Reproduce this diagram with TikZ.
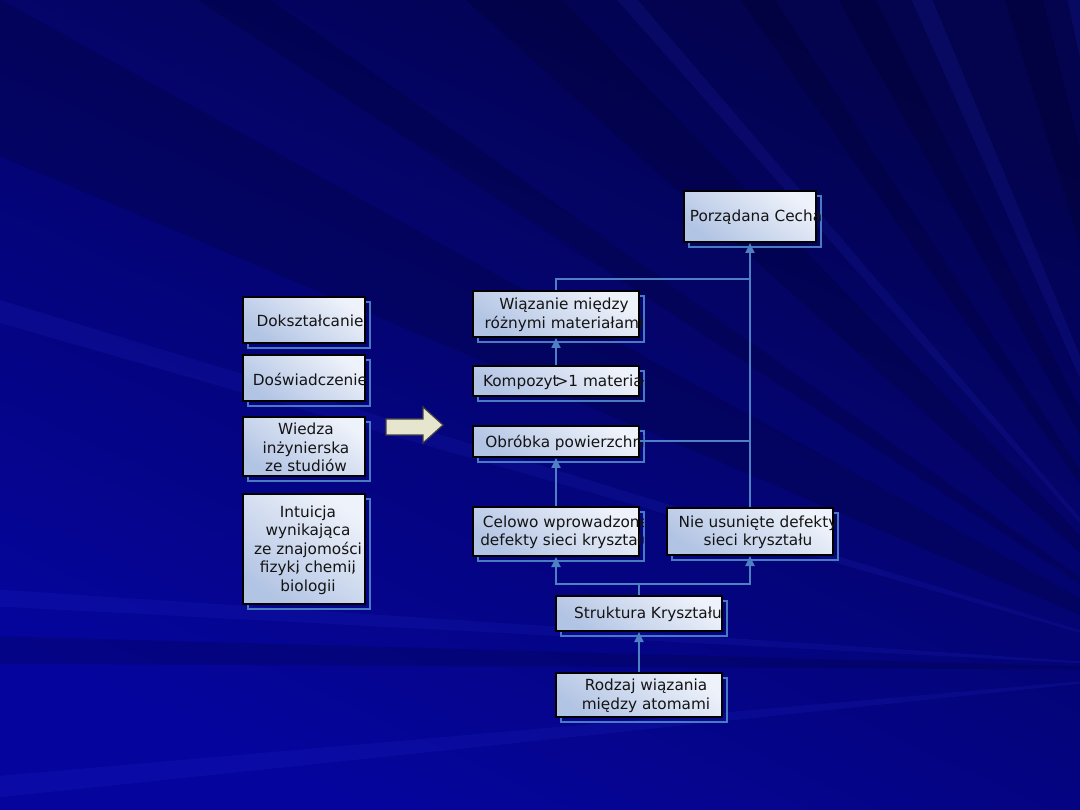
\documentclass[tikz,border=0pt]{standalone}
\usepackage{fontspec}
\setmainfont{DejaVu Sans}
\usetikzlibrary{arrows.meta,fit,calc}
\definecolor{bgtop}{RGB}{3,3,78}
\definecolor{bgbot}{RGB}{5,5,158}
\definecolor{raylight}{RGB}{45,55,220}
\definecolor{bxlight}{RGB}{238,242,250}
\definecolor{bxdark}{RGB}{178,196,228}
\definecolor{shadowc}{RGB}{74,122,192}
\definecolor{connc}{RGB}{78,128,196}
\definecolor{arrowfill}{RGB}{230,230,206}
\tikzset{
  fbox/.style={draw=black, line width=2pt, inner sep=0pt, top color=bxlight, bottom color=bxdark, shading angle=-35},
  shadowline/.style={draw=shadowc, line width=1.6pt},
  btext/.style={font=\fontsize{15.3}{18.5}\selectfont, text=black!92, align=center, inner sep=0pt},
  conn/.style={draw=connc, line width=2pt},
  arr/.style={conn, -{Triangle[width=9pt,length=10pt]}},
  blockarrow/.style={fill=arrowfill, draw=black!75, line width=1.2pt, line join=miter},
  darkray/.style={fill=black, opacity=0.14},
  lightray/.style={fill=raylight, opacity=0.13}
}
\newcommand\tbox[7]{%
  \draw[shadowline] (#2+5,#3+5) rectangle (#4+5,#5+5);
  \node[fbox, fit={(#2,#3)(#4,#5)}] (#1) {};
  \begin{scope}
    \clip (#2,#3) rectangle (#4+4,#5);
    \node[btext] at ([xshift=#6pt,yshift=-1pt]#1.center) {#7};
  \end{scope}}
\begin{document}
\begin{tikzpicture}[x=1pt,y=-1pt]
\useasboundingbox (0,0) rectangle (1080,810);
% background
\begin{scope}
  \clip (0,0) rectangle (1080,810);
  \shade[top color=bgtop, bottom color=bgbot, shading angle=-25] (0,0) rectangle (1080,810);
  \coordinate (C) at (1210,670);
  \foreach \a/\b in {180.3/181.6, 203/209, 213.5/215.5, 222/226, 235/237, 241/243.5, 253/256, 261/263.5}
    \fill[darkray] (C) -- ($(C)+(\a:2300)$) -- ($(C)+(\b:2300)$) -- cycle;
  \foreach \a/\b in {174/175, 183/183.8, 196/197, 228.5/229.5, 246/247.5, 258/259.2}
    \fill[lightray] (C) -- ($(C)+(\a:2300)$) -- ($(C)+(\b:2300)$) -- cycle;
\end{scope}
% left boxes
\tbox{dok}{243}{297}{365}{343}{6}{Dokształcanie}
\tbox{dos}{243}{355}{365}{401}{6}{Doświadczenie}
\tbox{wie}{243}{417}{365}{476}{2}{Wiedza\\inżynierska\\ze studiów}
\tbox{int}{243}{494}{365}{604}{4}{Intuicja\\wynikająca\\ze znajomości\\fizyki\kern-0.3em, chemii\kern-0.3em,\\biologii}
% block arrow
\draw[blockarrow] (386,419) -- (423,419) -- (423,407) -- (443,425) -- (423,443) -- (423,435) -- (386,435) -- cycle;
% right diagram boxes
\tbox{cecha}{684}{191}{816}{242}{6}{Porządana Cecha}
\tbox{wiaz}{473}{291}{639}{337}{8}{Wiązanie między\\różnymi materiałami}
\tbox{komp}{473}{366}{639}{396}{9}{Kompozyt\kern-0.2em>1 materiał}
\tbox{obr}{473}{426}{639}{457}{10}{Obróbka powierzchni}
\tbox{cel}{473}{507}{639}{556}{10}{Celowo wprowadzone\\defekty sieci kryształu}
\tbox{nie}{667}{508}{833}{555}{8}{Nie usunięte defekty\\sieci kryształu}
\tbox{str}{556}{596}{722}{631}{9}{Struktura Kryształu}
\tbox{rodz}{556}{673}{722}{717}{7}{Rodzaj wiązania\\między atomami}
% connectors
\coordinate (j1) at (750,279);
\coordinate (j3) at (639,584);
\draw[arr] (nie.north) -- (cecha.south);
\draw[conn] (wiaz.north) |- (j1);
\draw[arr] (komp.north) -- (wiaz.south);
\draw[conn] (obr.east) -- (obr.east -| nie.north);
\draw[arr] (cel.north) -- (obr.south);
\draw[conn] (str.north) -- (j3);
\draw[arr] (j3) -| (cel.south);
\draw[arr] (j3) -| (nie.south);
\draw[arr] (rodz.north) -- (str.south);
\end{tikzpicture}
\end{document}
